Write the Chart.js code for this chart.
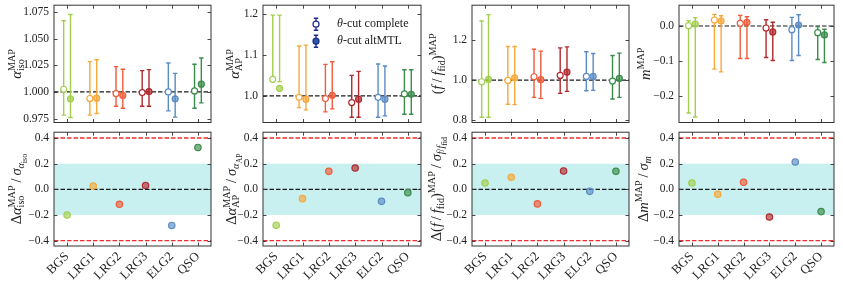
<!DOCTYPE html>
<html>
<head>
<meta charset="utf-8">
<script src="https://cdn.jsdelivr.net/npm/chart.js@4"></script>
<style>
  html, body { margin: 0; padding: 0; background: #fff; }
  #wrap { position: relative; width: 843px; height: 287px; overflow: hidden; }
  #wrap canvas { position: absolute; }
</style>
</head>
<body>
<div id="wrap"></div>
<script>
const cats = ['BGS', 'LRG1', 'LRG2', 'LRG3', 'ELG2', 'QSO'];
const catColors = ['#a3cf4f', '#f6a83b', '#ef5b3b', '#b0292f', '#5b8bc4', '#3b8c4b'];
const legendLabels = ['θ-cut complete', 'θ-cut altMTL'];

// alpha_iso: MAP value and ends of the error bar, complete / altMTL
const isoComp   = [1.0025, 0.9938, 0.9984, 0.9994, 1.0000, 1.0009];
const isoCompLo = [0.9782, 0.9782, 0.9866, 0.9866, 0.9822, 0.9847];
const isoCompHi = [1.0667, 1.0284, 1.0237, 1.0199, 1.0271, 1.0259];
const isoAlt    = [0.9935, 0.9941, 0.9966, 1.0003, 0.9935, 1.0072];
const isoAltLo  = [0.9760, 0.9797, 0.9847, 0.9866, 0.9763, 0.9897];
const isoAltHi  = [1.0726, 1.0302, 1.0212, 1.0209, 1.0174, 1.0318];

// alpha_AP
const apComp   = [1.0407, 0.9967, 0.9935, 0.9837, 0.9967, 1.0049];
const apCompLo = [1.0390, 0.9715, 0.9610, 0.9480, 0.9480, 0.9553];
const apCompHi = [1.1976, 1.1220, 1.0772, 1.0504, 1.0780, 1.0642];
const apAlt    = [1.0187, 0.9919, 1.0016, 0.9919, 0.9919, 1.0041];
const apAltLo  = [1.0350, 0.9659, 0.9683, 0.9480, 0.9512, 0.9553];
const apAltHi  = [1.1976, 1.1244, 1.0837, 1.0602, 1.0732, 1.0642];

// f / f_fid
const fComp   = [0.9917, 0.9983, 1.0166, 1.0232, 1.0183, 0.9950];
const fCompLo = [0.8141, 0.8788, 0.9137, 0.9336, 0.9469, 0.9054];
const fCompHi = [1.2954, 1.1676, 1.1543, 1.1610, 1.1411, 1.1228];
const fAlt    = [1.0033, 1.0116, 1.0017, 1.0398, 1.0183, 1.0083];
const fAltLo  = [0.8141, 0.8772, 0.9087, 0.9436, 0.9486, 0.9137];
const fAltHi  = [1.3270, 1.1676, 1.1444, 1.1660, 1.1328, 1.1344];

// m
const mComp   = [0.0010, 0.0170, 0.0075, -0.0057, -0.0104, -0.0189];
const mCompLo = [-0.2472, -0.1226, -0.0925, -0.0896, -0.0981, -0.0953];
const mCompHi = [0.0151, 0.0330, 0.0302, 0.0179, 0.0245, -0.0019];
const mAlt    = [0.0057, 0.0142, 0.0104, -0.0170, 0.0028, -0.0255];
const mAltLo  = [-0.2585, -0.1302, -0.0925, -0.0981, -0.0840, -0.1038];
const mAltHi  = [0.0236, 0.0292, 0.0264, 0.0104, 0.0321, -0.0094];

// normalised shifts (bottom row)
const dIso = [-0.200, 0.025, -0.117, 0.030, -0.282, 0.326];
const dAp  = [-0.280, -0.073, 0.140, 0.166, -0.094, -0.026];
const dF   = [0.049, 0.094, -0.114, 0.143, -0.016, 0.140];
const dM   = [0.049, -0.039, 0.055, -0.216, 0.213, -0.174];

// tick values
const isoTicks = [0.975, 1.000, 1.025, 1.050, 1.075];
const apTicks  = [1.0, 1.1, 1.2];
const fTicks   = [0.8, 1.0, 1.2];
const mTicks   = [-0.2, -0.1, 0.0];
const devTicks = [-0.4, -0.2, 0.0, 0.2, 0.4];

const FONT = '"Liberation Serif", "DejaVu Serif", serif';
const panelLeft = [54, 263, 472, 679];
const panelW = [157, 158, 157, 155];
const YW = 54;

Chart.defaults.font.family = FONT;
Chart.defaults.color = '#222';

const fmt = (v, dec) => (v < 0 ? '\u2212' : '') + Math.abs(v).toFixed(dec);
const alpha = (hex, a) => {
    const n = parseInt(hex.slice(1), 16);
    return `rgba(${n >> 16},${(n >> 8) & 255},${n & 255},${a})`;
};

// rich text for the axis titles (sub/superscripts)
function drawRich(ctx, segs, size) {
    const sc = { '0': 1, '1': 0.7, '-1': 0.7, '-2': 0.55 };
    const dy = { '0': 0, '1': -0.42, '-1': 0.24, '-2': 0.4 };
    let cur = 0, prev = 0;
    const placed = [];
    for (const s of segs) {
        const lv = String(s.lv || 0);
        ctx.font = `${s.it ? 'italic ' : ''}${size * sc[lv]}px ${FONT}`;
        const w = ctx.measureText(s.t).width;
        const x0 = s.st ? prev : cur;
        placed.push({ t: s.t, x: x0, y: dy[lv] * size, font: ctx.font });
        prev = x0;
        cur = s.st ? Math.max(cur, x0 + w) : x0 + w;
    }
    for (const p of placed) {
        ctx.font = p.font;
        ctx.fillText(p.t, p.x - cur / 2, p.y);
    }
}

const titlePlugin = {
    id: 'richTitle',
    afterDraw(chart, args, opts) {
        if (!opts.segs) return;
        const { ctx, chartArea: a } = chart;
        ctx.save();
        ctx.fillStyle = '#222';
        ctx.textBaseline = 'alphabetic';
        ctx.translate(a.left - opts.off + 5, (a.top + a.bottom) / 2);
        ctx.rotate(-Math.PI / 2);
        drawRich(ctx, opts.segs, 14.5);
        ctx.restore();
    }
};

// frame and inward ticks on all four sides
const framePlugin = {
    id: 'frame',
    afterDatasetsDraw(chart) {
        const { ctx, chartArea: a, scales } = chart;
        ctx.save();
        ctx.strokeStyle = '#333';
        ctx.lineWidth = 0.9;
        ctx.beginPath();
        scales.y.ticks.forEach(t => {
            const y = Math.round(scales.y.getPixelForValue(t.value)) + 0.5;
            ctx.moveTo(a.left, y); ctx.lineTo(a.left + 3.5, y);
            ctx.moveTo(a.right, y); ctx.lineTo(a.right - 3.5, y);
        });
        scales.x.ticks.forEach(t => {
            const x = Math.round(scales.x.getPixelForValue(t.value)) + 0.5;
            ctx.moveTo(x, a.bottom); ctx.lineTo(x, a.bottom - 3.5);
            ctx.moveTo(x, a.top); ctx.lineTo(x, a.top + 3.5);
        });
        ctx.stroke();
        ctx.lineWidth = 1;
        ctx.strokeRect(a.left, a.top, a.right - a.left, a.bottom - a.top);
        ctx.restore();
    }
};

// vertical error bars drawn just under their markers
const errPlugin = {
    id: 'errBars',
    beforeDatasetDraw(chart, args) {
        const ds = chart.data.datasets[args.index];
        if (!ds.errBars) return;
        const { ctx } = chart;
        const ys = chart.scales.y;
        ctx.save();
        ctx.lineWidth = 1.4;
        ds.data.forEach((p, i) => {
            const x = args.meta.data[i].x;
            const y1 = ys.getPixelForValue(p.lo);
            const y2 = ys.getPixelForValue(p.hi);
            ctx.strokeStyle = catColors[i];
            ctx.beginPath();
            ctx.moveTo(x, y1); ctx.lineTo(x, y2);
            ctx.moveTo(x - 2.2, y1); ctx.lineTo(x + 2.2, y1);
            ctx.moveTo(x - 2.2, y2); ctx.lineTo(x + 2.2, y2);
            ctx.stroke();
        });
        ctx.restore();
    }
};

const legendPlugin = {
    id: 'thetaLegend',
    afterDatasetsDraw(chart) {
        const { ctx, chartArea: a } = chart;
        const x = a.left + 53;
        legendLabels.forEach((lab, k) => {
            const y = a.top + 19 + k * 17;
            ctx.save();
            ctx.strokeStyle = '#1c2c8c';
            ctx.lineWidth = 1.4;
            ctx.beginPath();
            ctx.moveTo(x, y - 6); ctx.lineTo(x, y + 6);
            ctx.moveTo(x - 2.2, y - 6); ctx.lineTo(x + 2.2, y - 6);
            ctx.moveTo(x - 2.2, y + 6); ctx.lineTo(x + 2.2, y + 6);
            ctx.stroke();
            ctx.beginPath();
            ctx.arc(x, y, 3, 0, Math.PI * 2);
            ctx.fillStyle = k === 0 ? '#fff' : '#2a58a6';
            ctx.fill();
            ctx.lineWidth = 1.2;
            ctx.stroke();
            ctx.fillStyle = '#222';
            ctx.textBaseline = 'middle';
            ctx.font = `italic 12px ${FONT}`;
            const th = lab.slice(0, 1);
            ctx.fillText(th, x + 21, y);
            const w = ctx.measureText(th).width;
            ctx.font = `12px ${FONT}`;
            ctx.fillText(lab.slice(1), x + 21 + w, y);
            ctx.restore();
        });
    }
};

function yScale(min, max, ticks, dec) {
    return {
        type: 'linear', min, max,
        afterBuildTicks: s => { s.ticks = ticks.map(v => ({ value: v })); },
        afterFit: s => { s.width = YW; s.paddingTop = 0; s.paddingBottom = 0; },
        grid: { display: false, drawTicks: false },
        border: { display: false },
        ticks: { font: { size: 11.5 }, padding: 5, color: '#222', callback: v => fmt(v, dec) }
    };
}

function xScale(bottom) {
    return {
        type: 'linear', min: -0.5, max: 5.5,
        afterBuildTicks: s => { s.ticks = cats.map((c, i) => ({ value: i })); },
        afterFit: s => { s.height = bottom ? 41 : 0; s.paddingLeft = 0; s.paddingRight = 0; },
        grid: { display: false, drawTicks: false },
        border: { display: false },
        ticks: {
            display: bottom, autoSkip: false, minRotation: 45, maxRotation: 45,
            padding: 3, font: { size: 13 }, color: '#222', callback: v => cats[v]
        }
    };
}

function makeCanvas(col, top, h) {
    const c = document.createElement('canvas');
    const w = YW + panelW[col] + 6;
    c.width = w; c.height = h;
    c.style.width = w + 'px'; c.style.height = h + 'px';
    c.style.left = (panelLeft[col] - YW) + 'px';
    c.style.top = top + 'px';
    document.getElementById('wrap').appendChild(c);
    return c.getContext('2d');
}

const hline = (y, color, w) => ({
    type: 'line',
    data: [{ x: -0.5, y }, { x: 5.5, y }],
    borderColor: color, borderWidth: w, borderDash: [4.5, 2],
    pointRadius: 0, fill: false
});

function makeTop(col, p) {
    const pts = (vals, lo, hi, dx) => vals.map((v, i) => ({ x: i + dx, y: v, lo: lo[i], hi: hi[i] }));
    const extra = col === 1 ? [legendPlugin] : [];
    new Chart(makeCanvas(col, 0, 128), {
        type: 'scatter',
        data: {
            datasets: [
                {
                    data: pts(p.comp, p.compLo, p.compHi, -0.13), errBars: true,
                    pointRadius: 3, pointBorderWidth: 1.2,
                    pointBackgroundColor: '#fff', pointBorderColor: catColors
                },
                {
                    data: pts(p.alt, p.altLo, p.altHi, 0.13), errBars: true,
                    pointRadius: 3, pointBorderWidth: 1.2,
                    pointBackgroundColor: catColors.map(c => alpha(c, 0.7)), pointBorderColor: catColors
                },
                hline(p.ref, '#1a1a1a', 1.2)
            ]
        },
        options: {
            responsive: false, animation: false,
            layout: { padding: { top: 5, bottom: 5.5, left: 0, right: 6 } },
            scales: { x: xScale(false), y: yScale(p.min, p.max, p.ticks, p.dec) },
            plugins: {
                legend: { display: false }, tooltip: { enabled: false },
                richTitle: { segs: p.title, off: p.off }
            }
        },
        plugins: [errPlugin, framePlugin, titlePlugin, ...extra]
    });
}

function makeBottom(col, p) {
    new Chart(makeCanvas(col, 127, 160), {
        type: 'scatter',
        data: {
            datasets: [
                {
                    data: p.vals.map((v, i) => ({ x: i, y: v })),
                    pointRadius: 3.2, pointBorderWidth: 1.2,
                    pointBackgroundColor: catColors.map(c => alpha(c, 0.65)), pointBorderColor: catColors
                },
                hline(0, '#1a1a1a', 1.2),
                hline(0.4, '#f22c2c', 1.4),
                hline(-0.4, '#f22c2c', 1.4),
                {
                    type: 'line',
                    data: [{ x: -0.5, y: 0.2 }, { x: 5.5, y: 0.2 }],
                    borderWidth: 0, pointRadius: 0,
                    backgroundColor: '#c9f0f0', fill: { value: -0.2 }
                }
            ]
        },
        options: {
            responsive: false, animation: false,
            layout: { padding: { top: 5, bottom: 0, left: 0, right: 6 } },
            scales: { x: xScale(true), y: yScale(-0.442, 0.445, devTicks, 1) },
            plugins: {
                legend: { display: false }, tooltip: { enabled: false },
                richTitle: { segs: p.title, off: p.off }
            }
        },
        plugins: [framePlugin, titlePlugin]
    });
}

const sl = { t: '\u2009/\u2009' };

makeTop(0, {
    comp: isoComp, compLo: isoCompLo, compHi: isoCompHi, alt: isoAlt, altLo: isoAltLo, altHi: isoAltHi,
    ticks: isoTicks, dec: 3, min: 0.9713, max: 1.0813, ref: 1.0, off: 38,
    title: [{ t: 'α', it: 1 }, { t: 'MAP', lv: 1 }, { t: 'iso', lv: -1, st: 1 }]
});
makeTop(1, {
    comp: apComp, compLo: apCompLo, compHi: apCompHi, alt: apAlt, altLo: apAltLo, altHi: apAltHi,
    ticks: apTicks, dec: 1, min: 0.935, max: 1.222, ref: 1.0, off: 29,
    title: [{ t: 'α', it: 1 }, { t: 'MAP', lv: 1 }, { t: 'AP', lv: -1, st: 1 }]
});
makeTop(2, {
    comp: fComp, compLo: fCompLo, compHi: fCompHi, alt: fAlt, altLo: fAltLo, altHi: fAltHi,
    ticks: fTicks, dec: 1, min: 0.788, max: 1.374, ref: 1.0, off: 35,
    title: [{ t: '(' }, { t: 'f', it: 1 }, sl, { t: 'f', it: 1 }, { t: 'fid', lv: -1 }, { t: ')' }, { t: 'MAP', lv: 1 }]
});
makeTop(3, {
    comp: mComp, compLo: mCompLo, compHi: mCompHi, alt: mAlt, altLo: mAltLo, altHi: mAltHi,
    ticks: mTicks, dec: 1, min: -0.274, max: 0.059, ref: 0.0, off: 34,
    title: [{ t: 'm', it: 1 }, { t: 'MAP', lv: 1 }]
});

makeBottom(0, {
    vals: dIso, off: 38,
    title: [{ t: 'Δ' }, { t: 'α', it: 1 }, { t: 'MAP', lv: 1 }, { t: 'iso', lv: -1, st: 1 }, sl,
            { t: 'σ', it: 1 }, { t: 'α', it: 1, lv: -1 }, { t: 'iso', lv: -2 }]
});
makeBottom(1, {
    vals: dAp, off: 32,
    title: [{ t: 'Δ' }, { t: 'α', it: 1 }, { t: 'MAP', lv: 1 }, { t: 'AP', lv: -1, st: 1 }, sl,
            { t: 'σ', it: 1 }, { t: 'α', it: 1, lv: -1 }, { t: 'AP', lv: -2 }]
});
makeBottom(2, {
    vals: dF, off: 36,
    title: [{ t: 'Δ(' }, { t: 'f', it: 1 }, sl, { t: 'f', it: 1 }, { t: 'fid', lv: -1 }, { t: ')' },
            { t: 'MAP', lv: 1 }, sl, { t: 'σ', it: 1 }, { t: 'f', it: 1, lv: -1 }, { t: '/', lv: -1 },
            { t: 'f', it: 1, lv: -1 }, { t: 'fid', lv: -2 }]
});
makeBottom(3, {
    vals: dM, off: 36,
    title: [{ t: 'Δ' }, { t: 'm', it: 1 }, { t: 'MAP', lv: 1 }, sl, { t: 'σ', it: 1 }, { t: 'm', it: 1, lv: -1 }]
});
</script>
</body>
</html>
